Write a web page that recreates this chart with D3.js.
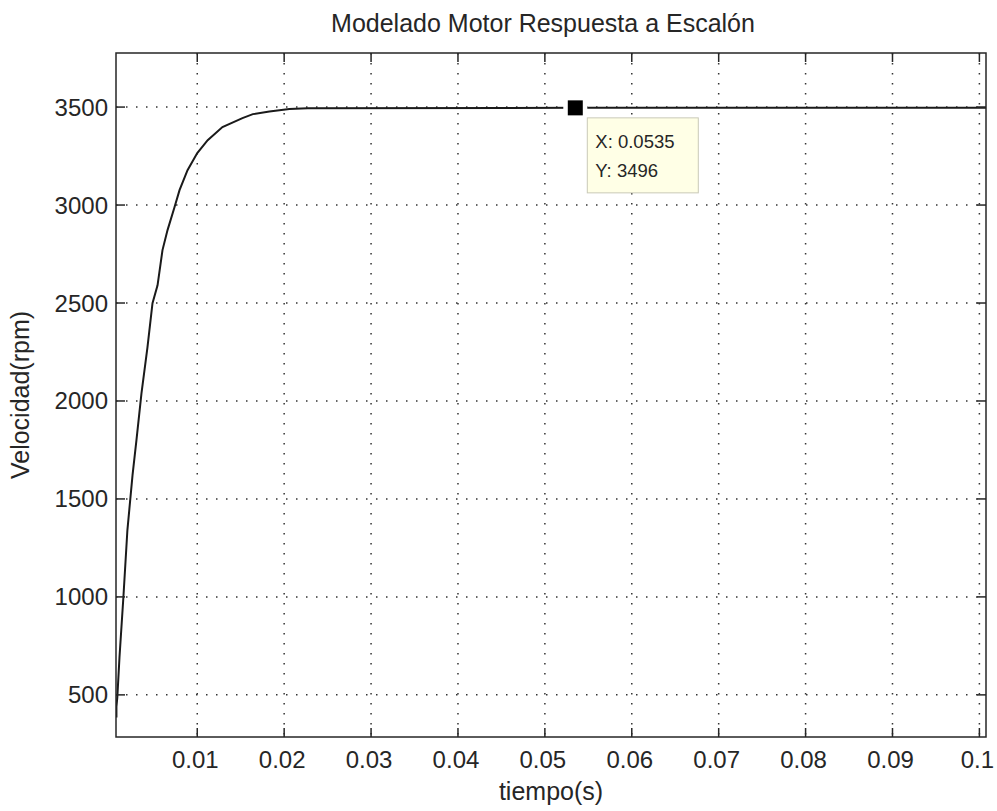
<!DOCTYPE html>
<html>
<head>
<meta charset="utf-8">
<script src="https://cdn.jsdelivr.net/npm/d3@7/dist/d3.min.js"></script>
<style>
  html, body { margin: 0; padding: 0; background: #fff; }
  svg { display: block; font-family: "Liberation Sans", Arial, sans-serif; }
  .tick-label { font-size: 24px; fill: #262626; }
  .axis-title { font-size: 25px; fill: #262626; }
  .grid line { stroke: #333; stroke-width: 1.5; stroke-dasharray: 1.5 8.5; }
  .tip-text { font-size: 18.5px; fill: #262626; }
</style>
</head>
<body>
<div id="chart"></div>
<script>
// =====================
// Data
// =====================
const time = [0.0007, 0.0007, 0.0008, 0.00105, 0.0015, 0.00196, 0.00255, 0.0030, 0.00358, 0.00427,
  0.00485, 0.00543, 0.0060, 0.00658, 0.00738, 0.00796, 0.00888, 0.0100, 0.0112, 0.0129,
  0.0152, 0.0164, 0.0183, 0.0206, 0.0227, 0.0535, 0.1008];
const speed = [385, 440, 487, 691, 998, 1340, 1620, 1799, 2039, 2274,
  2499, 2590, 2770, 2872, 2989, 3076, 3178, 3265, 3331, 3398,
  3444, 3464, 3477, 3490, 3494, 3496, 3496];

const xTicks = [0.01, 0.02, 0.03, 0.04, 0.05, 0.06, 0.07, 0.08, 0.09, 0.1];
const xTickLabels = ["0.01", "0.02", "0.03", "0.04", "0.05", "0.06", "0.07", "0.08", "0.09", "0.1"];
const yTicks = [500, 1000, 1500, 2000, 2500, 3000, 3500];

const tipPoint = { x: 0.0535, y: 3496 };

// =====================
// Layout
// =====================
const width = 997, height = 811;
const margin = { top: 53, right: 11, bottom: 74, left: 116 };
const innerW = width - margin.left - margin.right;
const innerH = height - margin.top - margin.bottom;
const tickLen = 9;

const x = d3.scaleLinear().domain([0.00065, 0.10076]).range([0, innerW]);
const y = d3.scaleLinear().domain([285, 3776]).range([innerH, 0]);

const svg = d3.select("#chart").append("svg")
  .attr("width", width)
  .attr("height", height);

const g = svg.append("g")
  .attr("transform", `translate(${margin.left},${margin.top})`);

g.append("defs").append("clipPath").attr("id", "clip")
  .append("rect").attr("width", innerW).attr("height", innerH);

// grid
const grid = g.append("g").attr("class", "grid");
grid.selectAll(".gx").data(xTicks).enter().append("line")
  .attr("x1", d => x(d)).attr("x2", d => x(d))
  .attr("y1", 0).attr("y2", innerH);
grid.selectAll(".gy").data(yTicks).enter().append("line")
  .attr("x1", 0).attr("x2", innerW)
  .attr("y1", d => y(d)).attr("y2", d => y(d));

// curve
const line = d3.line()
  .x((d, i) => x(time[i]))
  .y(d => y(d));

g.append("path")
  .datum(speed)
  .attr("clip-path", "url(#clip)")
  .attr("fill", "none")
  .attr("stroke", "#1a1a1a")
  .attr("stroke-width", 2)
  .attr("d", line);

// axes (ticks inside, on all four sides)
const axisColor = "#262626";
const ticks = g.append("g").attr("stroke", axisColor).attr("stroke-width", 1.5);
xTicks.forEach(t => {
  ticks.append("line").attr("x1", x(t)).attr("x2", x(t)).attr("y1", innerH).attr("y2", innerH - tickLen);
  ticks.append("line").attr("x1", x(t)).attr("x2", x(t)).attr("y1", 0).attr("y2", tickLen);
});
yTicks.forEach(t => {
  ticks.append("line").attr("x1", 0).attr("x2", tickLen).attr("y1", y(t)).attr("y2", y(t));
  ticks.append("line").attr("x1", innerW).attr("x2", innerW - tickLen).attr("y1", y(t)).attr("y2", y(t));
});

g.append("rect")
  .attr("width", innerW).attr("height", innerH)
  .attr("fill", "none")
  .attr("stroke", axisColor)
  .attr("stroke-width", 1.5);

// tick labels
g.selectAll(".xl").data(xTicks).enter().append("text")
  .attr("class", "tick-label")
  .attr("x", d => x(d) - 2)
  .attr("y", innerH + 31)
  .attr("text-anchor", "middle")
  .text((d, i) => xTickLabels[i]);

g.selectAll(".yl").data(yTicks).enter().append("text")
  .attr("class", "tick-label")
  .attr("x", -8)
  .attr("y", d => y(d) + 8.5)
  .attr("text-anchor", "end")
  .text(d => d);

// titles
g.append("text")
  .attr("class", "axis-title")
  .attr("x", innerW / 2 - 8)
  .attr("y", -21)
  .attr("text-anchor", "middle")
  .text("Modelado Motor Respuesta a Escalón");

g.append("text")
  .attr("class", "axis-title")
  .attr("x", innerW / 2)
  .attr("y", innerH + 63)
  .attr("text-anchor", "middle")
  .text("tiempo(s)");

g.append("text")
  .attr("class", "axis-title")
  .attr("transform", `translate(${-87},${innerH / 2}) rotate(-90)`)
  .attr("text-anchor", "middle")
  .text("Velocidad(rpm)");

// data tip
const px = x(tipPoint.x), py = y(tipPoint.y);
g.append("rect")
  .attr("x", px - 12).attr("y", py - 6)
  .attr("width", 24).attr("height", 12)
  .attr("fill", "#fff");
g.append("rect")
  .attr("x", px - 7.5).attr("y", py - 7.5)
  .attr("width", 15).attr("height", 15)
  .attr("fill", "#000");

const tip = g.append("g").attr("transform", `translate(${px + 12},${py + 10})`);
tip.append("rect")
  .attr("width", 111).attr("height", 75)
  .attr("fill", "#ffffe6")
  .attr("stroke", "#c9c9b8")
  .attr("stroke-width", 1);
tip.append("text").attr("class", "tip-text")
  .attr("x", 8).attr("y", 30)
  .text(`X: ${tipPoint.x}`);
tip.append("text").attr("class", "tip-text")
  .attr("x", 8).attr("y", 59)
  .text(`Y: ${tipPoint.y}`);
</script>
</body>
</html>
